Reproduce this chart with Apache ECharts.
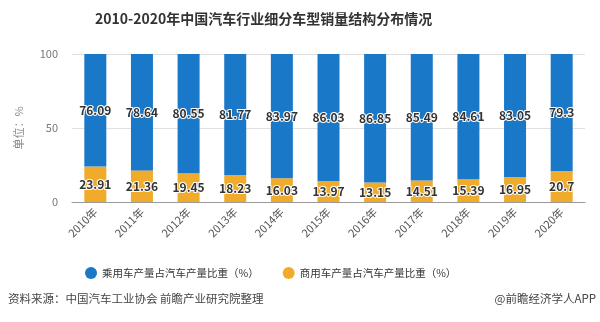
<!DOCTYPE html>
<html><head><meta charset="utf-8">
<script src="https://cdn.jsdelivr.net/npm/echarts@6/dist/echarts.min.js"></script>
<style>html,body{margin:0;padding:0;background:#fff}#c{width:600px;height:322px}</style>
</head><body><div id="c"></div>
<script>
var categories = ['2010年','2011年','2012年','2013年','2014年','2015年','2016年','2017年','2018年','2019年','2020年'];
var passenger = [76.09,78.64,80.55,81.77,83.97,86.03,86.85,85.49,84.61,83.05,79.3];
var commercial = [23.91,21.36,19.45,18.23,16.03,13.97,13.15,14.51,15.39,16.95,20.7];
var yTicks = [0,50,100];
var seriesNames = ['乘用车产量占汽车产量比重（%）','商用车产量占汽车产量比重（%）'];
var FONT = '"Noto Sans CJK SC","Noto Sans",sans-serif';
var chart = echarts.init(document.getElementById('c'));
var lbl = {show:true,position:'inside',color:'#333',fontSize:12,fontWeight:'bold',fontFamily:FONT,textBorderColor:'#fff',textBorderWidth:2};
chart.setOption({
  animation:false,
  title:{text:'2010-2020年中国汽车行业细分车型销量结构分布情况',left:90,top:7,textStyle:{fontSize:14,fontWeight:'bold',color:'#333',fontFamily:FONT}},
  grid:{left:72,right:15,top:54,height:148},
  legend:{left:80,top:262,itemWidth:12,itemHeight:12,icon:'circle',itemGap:24,textStyle:{fontSize:10.5,color:'#333',fontFamily:FONT},data:seriesNames},
  xAxis:{type:'category',data:categories,axisLine:{lineStyle:{color:'#999'}},axisTick:{alignWithLabel:true,lineStyle:{color:'#999'}},
    axisLabel:{rotate:45,color:'#555',fontSize:11,fontFamily:FONT,margin:8}},
  yAxis:{type:'value',min:0,max:100,interval:50,name:'单位：%',nameLocation:'middle',nameGap:48,nameRotate:90,
    nameTextStyle:{color:'#888',fontSize:11,fontFamily:FONT},
    axisLabel:{color:'#777',fontSize:11,fontFamily:FONT,margin:14,formatter:function(v){return yTicks.indexOf(v)>=0?v:'';}},
    axisLine:{show:false},axisTick:{show:false},splitLine:{lineStyle:{color:'#e0e0e0'}}},
  series:[
    {name:seriesNames[1],type:'bar',stack:'a',barWidth:22,data:commercial,itemStyle:{color:'#f1ab2b'},label:lbl},
    {name:seriesNames[0],type:'bar',stack:'a',barWidth:22,data:passenger,itemStyle:{color:'#1a78c8'},label:lbl}
  ],
  graphic:[
    {type:'text',left:8,top:293,style:{text:'资料来源：中国汽车工业协会 前瞻产业研究院整理',fontSize:11.5,fill:'#444',fontFamily:FONT}},
    {type:'text',right:4,top:293,style:{text:'@前瞻经济学人APP',fontSize:11.5,fill:'#444',fontFamily:FONT}}
  ]
});
</script></body></html>
